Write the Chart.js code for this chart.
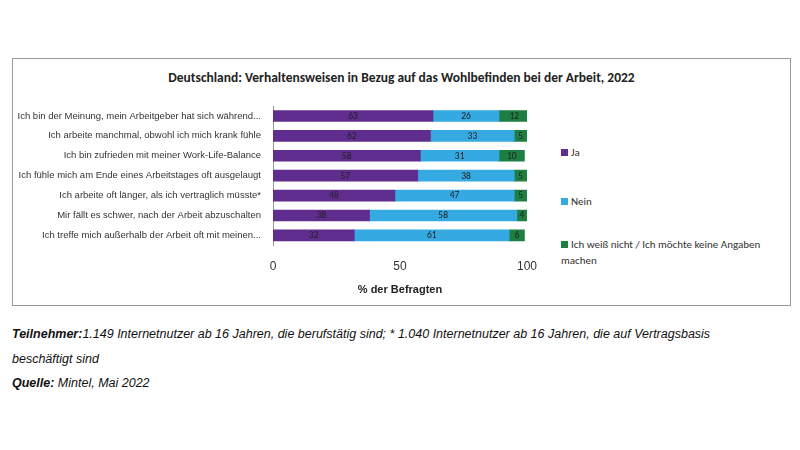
<!DOCTYPE html>
<html>
<head>
<meta charset="utf-8">
<script src="https://cdn.jsdelivr.net/npm/chart.js@4"></script>
<style>
  body { margin: 0; width: 800px; height: 450px; background: #fff; position: relative; font-family: Calibri, Carlito, "Open Sans", sans-serif; }
  #box { position: absolute; left: 12px; top: 58px; width: 777px; height: 246px; border: 1px solid #999; }
  #title { position: absolute; left: 0; width: 100%; top: 10px; text-align: center; font-weight: bold; font-size: 13.5px; color: #222; }
  #wrap { position: absolute; left: 0; top: 37px; width: 530px; height: 205px; }
  #legend { position: absolute; left: 548px; top: 86px; font-size: 11px; color: #333; }
  #legend div { position: absolute; left: 0; width: 220px; line-height: 16px; }
  #legend span { display: inline-block; width: 7px; height: 7px; margin-right: 3px; }
  #notes { position: absolute; left: 12px; top: 322px; font-family: "Liberation Sans", Arial, sans-serif; font-style: italic; font-size: 12.5px; line-height: 24.5px; color: #111; }
</style>
</head>
<body>
<div id="box">
  <div id="title">Deutschland: Verhaltensweisen in Bezug auf das Wohlbefinden bei der Arbeit, 2022</div>
  <div id="wrap"><canvas id="myBarChart"></canvas></div>
  <div id="legend"></div>
</div>
<div id="notes">
  <b>Teilnehmer:</b>1.149 Internetnutzer ab 16 Jahren, die berufstätig sind; * 1.040 Internetnutzer ab 16 Jahren, die auf Vertragsbasis<br>
  beschäftigt sind<br>
  <b>Quelle:</b> Mintel, Mai 2022
</div>
<script>
let categories = [
    "Ich bin der Meinung, mein Arbeitgeber hat sich während...",
    "Ich arbeite manchmal, obwohl ich mich krank fühle",
    "Ich bin zufrieden mit meiner Work-Life-Balance",
    "Ich fühle mich am Ende eines Arbeitstages oft ausgelaugt",
    "Ich arbeite oft länger, als ich vertraglich müsste*",
    "Mir fällt es schwer, nach der Arbeit abzuschalten",
    "Ich treffe mich außerhalb der Arbeit oft mit meinen..."
];
let jaValues = [63, 62, 58, 57, 48, 38, 32];
let neinValues = [26, 33, 31, 38, 47, 58, 61];
let weissNichtValues = [12, 5, 10, 5, 5, 4, 6];
let seriesNames = ["Ja", "Nein", "Ich weiß nicht / Ich möchte keine Angaben machen"];
let seriesColors = ["#5f2d8e", "#35a9e1", "#1d8042"];
let xTicks = [0, 50, 100];

// legend in html, spaced like the original
let legendTops = [0, 49, 92];
seriesNames.forEach(function (name, i) {
    $leg = document.getElementById("legend");
    let d = document.createElement("div");
    d.style.top = legendTops[i] + "px";
    d.innerHTML = '<span style="background:' + seriesColors[i] + '"></span>' + name;
    $leg.appendChild(d);
});

// value labels in the middle of each segment
let segmentLabels = {
    id: "segmentLabels",
    afterDatasetsDraw: function (chart) {
        let ctx = chart.ctx;
        ctx.save();
        ctx.font = "9.5px Calibri, Carlito, 'Open Sans', sans-serif";
        ctx.fillStyle = "#222";
        ctx.textAlign = "center";
        ctx.textBaseline = "middle";
        chart.data.datasets.forEach(function (ds, i) {
            chart.getDatasetMeta(i).data.forEach(function (bar, j) {
                ctx.fillText(ds.data[j], (bar.x + bar.base) / 2, bar.y + 0.5);
            });
        });
        ctx.restore();
    }
};

let dataLists = [jaValues, neinValues, weissNichtValues];
new Chart(document.getElementById("myBarChart"), {
    type: "bar",
    data: {
        labels: categories,
        datasets: dataLists.map(function (vals, i) {
            return { label: seriesNames[i], data: vals, backgroundColor: seriesColors[i], barThickness: 11 };
        })
    },
    options: {
        indexAxis: "y",
        responsive: true,
        maintainAspectRatio: false,
        animation: false,
        layout: { padding: { top: 10, right: 14 } },
        plugins: { legend: { display: false }, tooltip: { enabled: false } },
        scales: {
            x: {
                stacked: true, min: 0, max: 100,
                afterBuildTicks: function (s) { s.ticks = xTicks.map(function (v) { return { value: v }; }); },
                grid: { display: false },
                border: { display: false },
                ticks: { color: "#333", font: { size: 12 }, padding: 6 },
                title: { display: true, text: "% der Befragten", color: "#222", font: { size: 11, weight: "bold" } }
            },
            y: {
                stacked: true,
                afterFit: function (s) { s.width = 260; },
                grid: { display: false, drawTicks: true },
                border: { color: "#999" },
                ticks: { color: "#333", font: { size: 9.5 }, padding: 4 }
            }
        }
    },
    plugins: [segmentLabels]
});
</script>
</body>
</html>
